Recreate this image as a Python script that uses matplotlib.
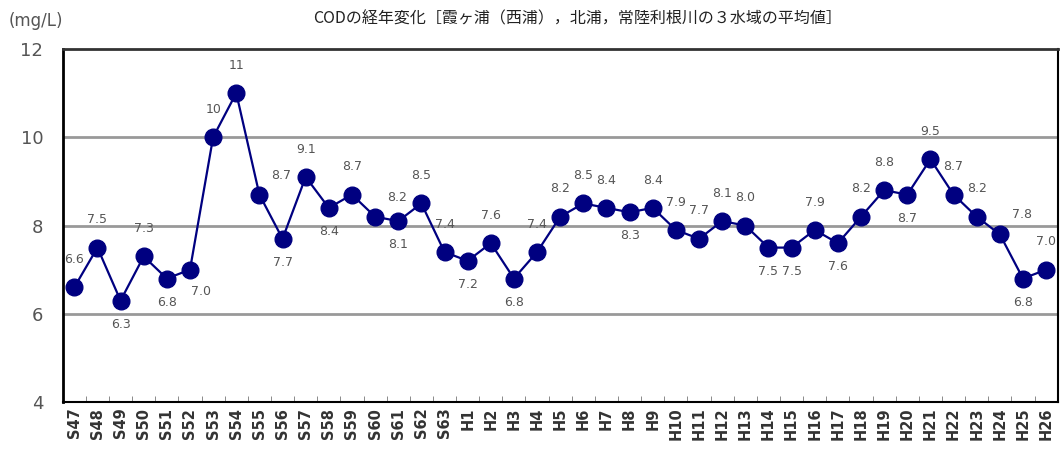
import matplotlib
matplotlib.use("Agg")
import matplotlib.pyplot as plt
import numpy as np

# fiscal years (Showa 47-63, Heisei 1-26)
years = ["S47", "S48", "S49", "S50", "S51", "S52", "S53", "S54", "S55", "S56",
         "S57", "S58", "S59", "S60", "S61", "S62", "S63",
         "H1", "H2", "H3", "H4", "H5", "H6", "H7", "H8", "H9", "H10",
         "H11", "H12", "H13", "H14", "H15", "H16", "H17", "H18", "H19", "H20",
         "H21", "H22", "H23", "H24", "H25", "H26"]
cod = [6.6, 7.5, 6.3, 7.3, 6.8, 7.0, 10, 11, 8.7, 7.7,
       9.1, 8.4, 8.7, 8.2, 8.1, 8.5, 7.4,
       7.2, 7.6, 6.8, 7.4, 8.2, 8.5, 8.4, 8.3, 8.4, 7.9,
       7.7, 8.1, 8.0, 7.5, 7.5, 7.9, 7.6, 8.2, 8.8, 8.7,
       9.5, 8.7, 8.2, 7.8, 6.8, 7.0]
y_ticks = [4, 6, 8, 10, 12]

# where each value label sits relative to its marker
label_side = ["a", "a", "b", "a", "b", "br", "a", "a", "r", "b",
              "a", "b", "a", "r", "b", "a", "a",
              "b", "a", "b", "a", "a", "a", "a", "b", "a", "a",
              "a", "a", "a", "b", "b", "a", "b", "a", "a", "b",
              "a", "a", "a", "r", "b", "a"]
offsets = {"a": (0, 20), "b": (0, -17), "r": (16, 14), "br": (8, -16)}

navy = "#000080"
grey = "#555555"

fig = plt.figure(figsize=(10.63, 4.57), dpi=100)
ax = fig.add_axes([0.059, 0.120, 0.936, 0.773])

x = np.arange(len(years))
ax.plot(x, cod, color=navy, lw=1.6, marker="o", markersize=12, zorder=3)

for xi, v, side in zip(x, cod, label_side):
    txt = "%g" % v if v >= 10 else "%.1f" % v
    ax.annotate(txt, (xi, v), xytext=offsets[side], textcoords="offset points",
                ha="center", va="center", fontsize=9, color=grey, zorder=4)

ax.set_xlim(-0.5, len(years) - 0.5)
ax.set_ylim(4, 12)
ax.set_yticks(y_ticks)
ax.set_yticklabels([str(t) for t in y_ticks], fontsize=13, color=grey)
for t in y_ticks[1:-1]:
    ax.axhline(t, color="#999999", lw=2, zorder=1)

ax.set_xticks(x)
ax.set_xticklabels(years, rotation=90, fontsize=10.5, color="#333333", fontweight="bold")
ax.set_xticks(np.arange(-0.5, len(years)), minor=True)
ax.tick_params(axis="x", which="major", length=0, pad=4)
ax.tick_params(axis="x", which="minor", direction="in", length=4, color="#777777")
ax.tick_params(axis="y", length=0, pad=14)

ax.spines["left"].set_linewidth(2)
ax.spines["bottom"].set_linewidth(1.5)
ax.spines["right"].set_linewidth(1.5)
ax.spines["top"].set_linewidth(2)
ax.spines["top"].set_color("#333333")

fig.text(0.008, 0.955, "(mg/L)", fontsize=12, color=grey, va="center")
fig.text(0.543, 0.958, "CODの経年変化［霞ヶ浦（西浦），北浦，常陸利根川の３水域の平均値］",
         family=["Noto Sans CJK JP", "DejaVu Sans"], fontsize=11.5, color="#222222",
         ha="center", va="center")

fig.savefig("out.png", dpi=100)
